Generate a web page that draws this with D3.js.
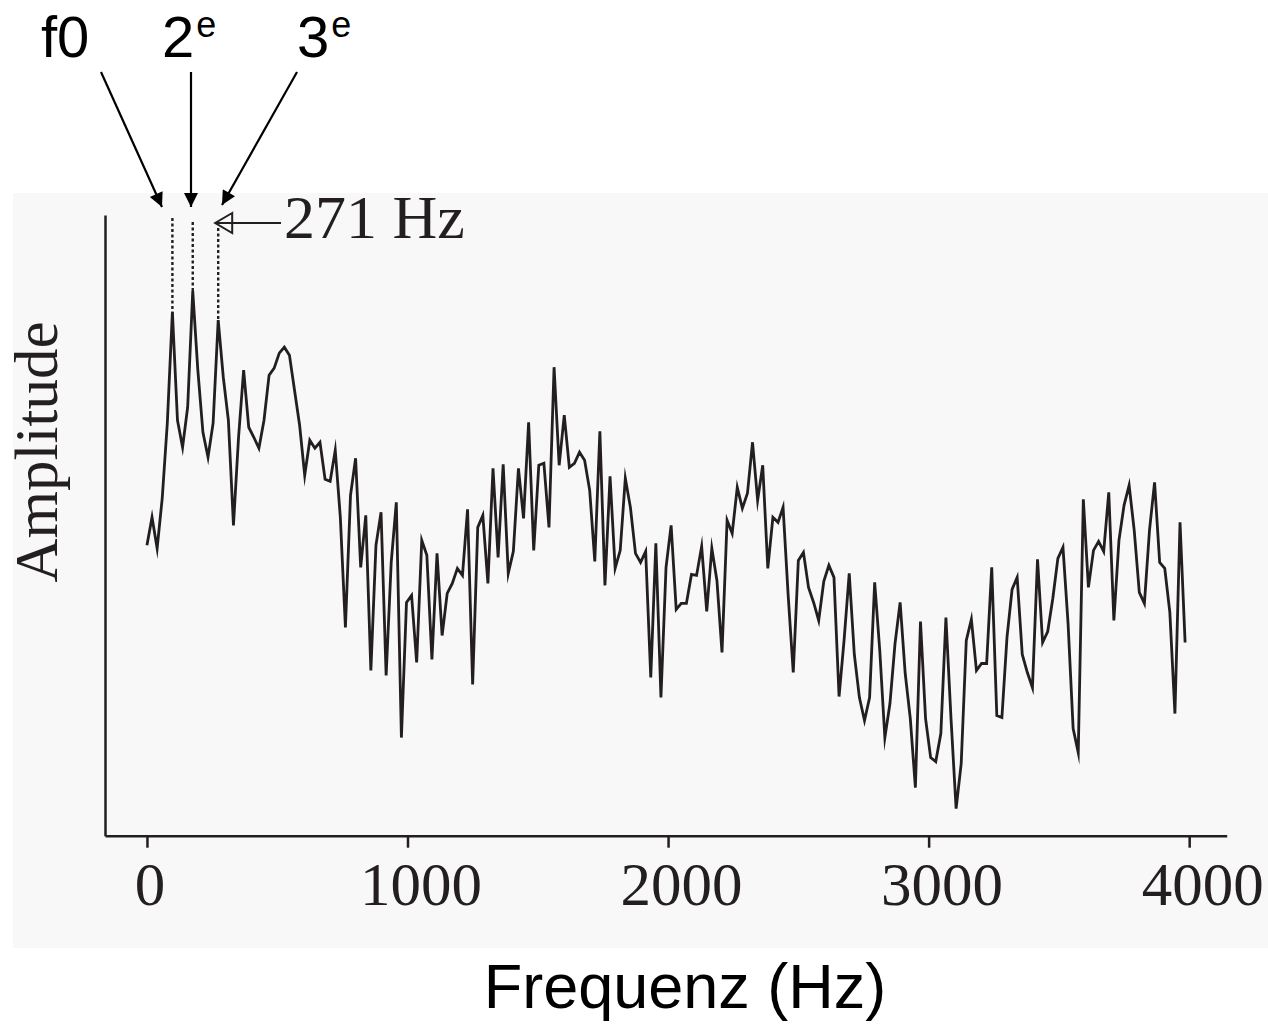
<!DOCTYPE html>
<html><head><meta charset="utf-8">
<script src="https://cdn.jsdelivr.net/npm/d3@7"></script>
<style>
html,body{margin:0;padding:0;background:#fff;}
svg{display:block;}
</style></head>
<body>
<svg id="chart" width="1268" height="1025"></svg>
<script>
// Spectrum data: amplitude (arbitrary units) per FFT bin
const binWidthHz = 10000 / 512;
const amplitude = [
29.0,31.8,28.7,33.7,41.2,52.3,41.5,38.8,42.8,54.4,46.5,40.3,37.8,41.2,51.5,45.8,41.5,31.0,39.8,46.5,
40.8,39.8,38.7,41.5,46.0,46.7,48.2,48.8,48.0,44.5,41.0,36.0,39.5,38.7,39.3,35.6,35.4,38.5,31.8,20.8,
34.0,37.7,26.8,32.0,16.5,29.0,32.3,16.0,27.3,33.3,9.8,23.3,24.0,17.3,29.5,28.0,17.6,28.2,20.0,24.2,
25.2,26.7,26.0,32.6,15.1,30.8,32.0,25.2,36.7,27.8,37.1,26.2,28.4,36.7,31.7,41.3,28.5,37.0,37.2,30.8,
46.8,37.0,42.0,36.8,37.2,38.3,37.5,34.5,27.4,40.4,25.0,35.9,26.7,28.5,35.7,32.8,28.2,27.3,28.4,15.8,
29.2,13.8,26.8,31.0,22.6,23.2,23.2,26.1,26.0,28.9,22.4,28.7,25.5,18.3,31.5,30.2,34.8,32.7,34.2,39.3,
33.5,37.0,26.7,31.8,31.3,32.8,24.0,16.3,27.5,28.3,24.8,23.3,21.5,25.4,27.0,25.8,13.9,19.6,26.2,18.1,
13.8,11.5,13.8,25.3,18.5,9.8,13.2,19.2,23.3,16.2,11.7,4.8,21.4,11.7,7.8,7.4,10.2,21.8,11.7,2.7,
7.2,19.5,21.6,16.5,17.2,17.2,26.8,12.0,11.8,19.8,24.6,25.8,18.1,16.3,14.8,27.6,19.3,20.4,23.7,27.7,
28.8,21.2,10.7,8.3,33.6,24.8,28.5,29.4,28.4,34.3,21.5,29.5,33.0,35.0,30.5,24.3,23.2,30.5,35.3,27.3,
26.7,22.3,12.2,31.3,19.3
];
const frequencies = amplitude.map((_, i) => i * binWidthHz);
const xTicks = [0, 1000, 2000, 3000, 4000];
const harmonicBins = [5, 9, 14];
const harmonicLabels = [["f0", ""], ["2", "e"], ["3", "e"]];
const harmonicNote = "271 Hz";
const xTitle = "Frequenz (Hz)";
const yTitle = "Amplitude";

const ink = "#231f20";
const svg = d3.select("#chart");

// faint background panel of the original figure
svg.append("rect").attr("x", 13).attr("y", 193).attr("width", 1255).attr("height", 755)
  .attr("fill", "#f8f8f8");

const x = d3.scaleLinear().domain([-161, 4144]).range([105, 1226.7]);
const y = d3.scaleLinear().domain([0, 62]).range([835.7, 215]);

const defs = svg.append("defs");
defs.append("marker").attr("id", "arrowFill").attr("viewBox", "0 0 10 10")
  .attr("refX", 10).attr("refY", 5).attr("markerWidth", 22).attr("markerHeight", 14)
  .attr("markerUnits", "userSpaceOnUse").attr("orient", "auto")
  .append("path").attr("d", "M0,0 L10,5 L0,10 Z").attr("fill", "#000");

// X axis
const xAxis = d3.axisBottom(x).tickValues(xTicks).tickFormat(d3.format("d"))
  .tickSizeInner(12).tickSizeOuter(0);
const gx = svg.append("g").attr("transform", "translate(0,835.7)").call(xAxis);
gx.select(".domain").attr("stroke", ink).attr("stroke-width", 2.5);
gx.selectAll(".tick line").attr("stroke", ink).attr("stroke-width", 2.5);
gx.selectAll(".tick text").attr("fill", ink).attr("dy", null).attr("y", 69)
  .attr("x", d => d === 0 ? 2.5 : 13)
  .attr("font-family", "'Liberation Serif','Times New Roman',serif").attr("font-size", 61);

// Y axis (no ticks)
const yAxis = d3.axisLeft(y).tickValues([]).tickSizeOuter(0);
const gy = svg.append("g").attr("transform", "translate(105,0)").call(yAxis);
gy.select(".domain").attr("stroke", ink).attr("stroke-width", 2.5);

// spectrum line
const pts = amplitude.map((a, i) => [frequencies[i], a]);
svg.append("path").datum(pts)
  .attr("fill", "none").attr("stroke", ink).attr("stroke-width", 2.8)
  .attr("stroke-linejoin", "miter").attr("stroke-miterlimit", 10)
  .attr("d", d3.line().x(d => x(d[0])).y(d => y(d[1])));

// dotted lines above the harmonic peaks
const dotTops = [218, 222, 228];
harmonicBins.forEach((b, i) => {
  svg.append("line")
    .attr("x1", x(frequencies[b])).attr("x2", x(frequencies[b]))
    .attr("y1", dotTops[i]).attr("y2", y(amplitude[b]) + 2)
    .attr("stroke", ink).attr("stroke-width", 2.4).attr("stroke-dasharray", "3,2.5");
});

// arrows from labels
const arrowStarts = [[101, 72], [191, 72], [297, 72]];
const arrowTips = [[162, 207], [191, 207], [222, 205]];
arrowStarts.forEach((s, i) => {
  svg.append("line").attr("x1", s[0]).attr("y1", s[1])
    .attr("x2", arrowTips[i][0]).attr("y2", arrowTips[i][1])
    .attr("stroke", "#000").attr("stroke-width", 2.2).attr("marker-end", "url(#arrowFill)");
});

// top labels
const labelX = [41, 162, 297];
harmonicLabels.forEach((l, i) => {
  const t = svg.append("text").attr("x", labelX[i]).attr("y", 57)
    .attr("font-family", "'Liberation Sans',Arial,sans-serif").attr("font-size", 58).attr("fill", "#000");
  t.append("tspan").text(l[0]);
  if (l[1]) t.append("tspan").attr("dy", -20).attr("font-size", 36).attr("dx", 2).text(l[1]);
});

// 271 Hz open arrow + text
const nx = x(frequencies[harmonicBins[2]]) - 3;
svg.append("path")
  .attr("d", `M${nx + 17},213 L${nx},223 L${nx + 17},233 Z`)
  .attr("fill", "none").attr("stroke", ink).attr("stroke-width", 2);
svg.append("line").attr("x1", nx).attr("y1", 223).attr("x2", 281).attr("y2", 223)
  .attr("stroke", ink).attr("stroke-width", 2);
svg.append("text").attr("x", 284).attr("y", 238)
  .attr("font-family", "'Liberation Serif','Times New Roman',serif").attr("font-size", 62)
  .attr("fill", ink).text(harmonicNote);

// axis titles
svg.append("text").attr("transform", "translate(57,452) rotate(-90)")
  .attr("text-anchor", "middle")
  .attr("font-family", "'Liberation Serif','Times New Roman',serif").attr("font-size", 61)
  .attr("fill", ink).text(yTitle);
svg.append("text").attr("x", 685).attr("y", 1008).attr("text-anchor", "middle")
  .attr("font-family", "'Liberation Sans',Arial,sans-serif").attr("font-size", 63)
  .attr("fill", "#000").text(xTitle);
</script>
</body></html>
